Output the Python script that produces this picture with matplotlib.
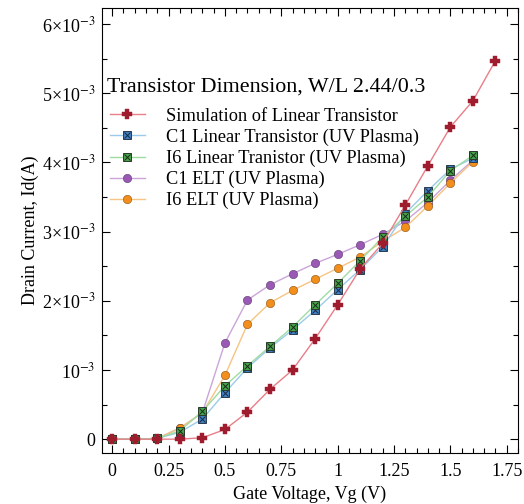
import matplotlib
matplotlib.use("Agg")
import matplotlib.pyplot as plt
from matplotlib.ticker import MultipleLocator, FuncFormatter
from matplotlib.legend_handler import HandlerTuple

plt.rcParams['font.family'] = ['Liberation Serif', 'DejaVu Serif']
plt.rcParams['mathtext.fontset'] = 'stix'

vg_sim = [0, 0.1, 0.2, 0.3, 0.4, 0.5, 0.6, 0.7, 0.8, 0.9, 1.0, 1.1, 1.2, 1.3, 1.4, 1.5, 1.6, 1.7]
vg = [0, 0.1, 0.2, 0.3, 0.4, 0.5, 0.6, 0.7, 0.8, 0.9, 1.0, 1.1, 1.2, 1.3, 1.4, 1.5, 1.6]

sim = [0, 0, 0, 0, 0.02, 0.14, 0.39, 0.72, 1.00, 1.45, 1.94, 2.46, 2.83, 3.38, 3.95, 4.51, 4.89, 5.47]
c1_lin = [0, 0, 0.01, 0.10, 0.29, 0.67, 1.03, 1.32, 1.58, 1.86, 2.16, 2.45, 2.78, 3.26, 3.59, 3.90, 4.06]
i6_lin = [0, 0, 0.01, 0.12, 0.40, 0.77, 1.06, 1.34, 1.62, 1.94, 2.25, 2.58, 2.92, 3.22, 3.50, 3.88, 4.10]
c1_elt = [0, 0, 0.01, 0.16, 0.38, 1.39, 2.01, 2.23, 2.39, 2.54, 2.67, 2.81, 2.96, 3.15, 3.42, 3.74, 4.03]
i6_elt = [0, 0, 0.01, 0.16, 0.38, 0.92, 1.66, 1.97, 2.15, 2.31, 2.47, 2.63, 2.86, 3.06, 3.37, 3.70, 4.01]

scale = 1e-3
legend_title = "Transistor Dimension, W/L 2.44/0.3"
labels = ["Simulation of Linear Transistor", "C1 Linear Transistor (UV Plasma)",
          "I6 Linear Tranistor (UV Plasma)", "C1 ELT (UV Plasma)", "I6 ELT (UV Plasma)"]

fig = plt.figure(figsize=(5.24, 5.04), dpi=100)
ax = fig.add_axes([0.1947, 0.1012, 0.7938, 0.8828])

def s(v):
    return [a * scale for a in v]

# simulation
h_sim, = ax.plot(vg_sim, s(sim), color='#e87f88', lw=1, marker='P', ms=6.5,
                 mfc='#9e1c2e', mec='#9e1c2e', mew=0.3, zorder=5)
# C1 linear
l1, = ax.plot(vg, s(c1_lin), color='#9ccbea', lw=1, marker='s', ms=5.5,
              mfc='#3f80c2', mec='#2a3a50', mew=0.7, zorder=3)
x1, = ax.plot(vg, s(c1_lin), ls='none', marker='x', ms=4, mec='#1a2a40', mew=0.7, zorder=3)
# I6 linear
l2, = ax.plot(vg, s(i6_lin), color='#9fdca3', lw=1, marker='s', ms=5.5,
              mfc='#47a34b', mec='#2a3a2a', mew=0.7, zorder=4)
x2, = ax.plot(vg, s(i6_lin), ls='none', marker='x', ms=4, mec='#1a2a1a', mew=0.7, zorder=4)
# C1 ELT
h3, = ax.plot(vg, s(c1_elt), color='#cba5da', lw=1, marker='o', ms=6,
              mfc='#9b59b6', mec='#5a3a6a', mew=0.4, zorder=2)
# I6 ELT
h4, = ax.plot(vg, s(i6_elt), color='#f7c483', lw=1, marker='o', ms=6,
              mfc='#f28e1c', mec='#8a5010', mew=0.4, zorder=2)

ax.set_xlim(-0.045, 1.80)
ax.set_ylim(-0.2e-3, 6.23e-3)

ax.xaxis.set_major_locator(MultipleLocator(0.25))
ax.xaxis.set_minor_locator(MultipleLocator(0.05))
ax.yaxis.set_major_locator(MultipleLocator(1e-3))
ax.yaxis.set_minor_locator(MultipleLocator(0.5e-3))

def xfmt(v, pos):
    if abs(v) < 1e-9:
        return "0"
    return ("%.2f" % v).rstrip('0').rstrip('.')

def yfmt(v, pos):
    n = int(round(v / 1e-3))
    if n == 0:
        return "0"
    if n == 1:
        return "10$^{-3}$"
    return "%d×10$^{-3}$" % n

ax.xaxis.set_major_formatter(FuncFormatter(xfmt))
ax.yaxis.set_major_formatter(FuncFormatter(yfmt))
ax.tick_params(which='both', direction='in', top=True, right=True, labelsize=13)
ax.tick_params(axis='x', pad=7)
ax.tick_params(axis='y', pad=5)
ax.tick_params(which='major', length=6, width=0.8)
ax.tick_params(which='minor', length=3.5, width=0.8)

ax.set_xlabel("Gate Voltage, Vg (V)", fontsize=13, labelpad=4)
ax.set_ylabel("Drain Current, Id(A)", fontsize=13, labelpad=2)

ax.text(0.012, 0.822, legend_title, transform=ax.transAxes, fontsize=15.8,
        ha='left', va='center', zorder=6)

leg = ax.legend([h_sim, (l1, x1), (l2, x2), h3, h4], labels,
                handler_map={tuple: HandlerTuple(ndivide=1)},
                loc='upper left', bbox_to_anchor=(0.019, 0.776),
                frameon=False, fontsize=13.2,
                handlelength=1.9, handletextpad=1.15, labelspacing=0.21,
                borderaxespad=0.0, borderpad=0.0, markerscale=1.0)

fig.savefig("out.png", dpi=100)
